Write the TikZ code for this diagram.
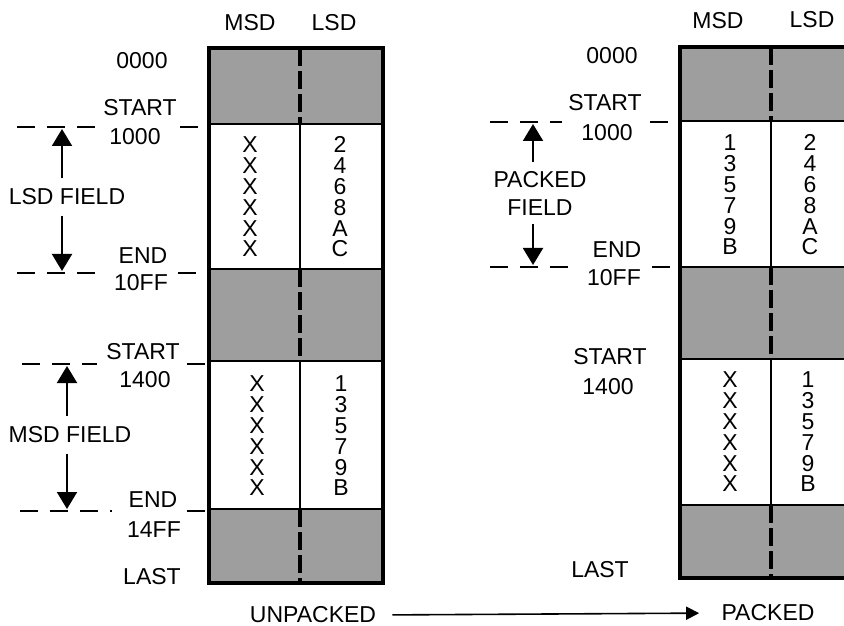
\documentclass[tikz,border=0pt]{standalone}
\usepackage{fontspec}
\setmainfont{Liberation Sans}
\usetikzlibrary{arrows.meta}
\tikzset{
  lbl/.style={inner sep=0pt, font=\fontsize{11.5}{14}\selectfont},
  stack/.style={lbl, align=center, font=\fontsize{11.5}{10.4}\selectfont},
  shade/.style={fill=black!38},
  cell/.style={line width=1.3pt},
  split/.style={line width=1.8pt, dash pattern=on 9pt off 2.5pt},
  guide/.style={line width=1.2pt, dash pattern=on 9pt off 6pt},
  fieldarrow/.style={line width=1pt, -{Triangle[length=8.5pt,width=10pt]}},
}
\begin{document}
\begin{tikzpicture}[x=0.5pt,y=-0.5pt]
  \clip (0,0) rectangle (844,625);
  % unpacked block
  \fill[shade] (209,48) rectangle (383,124) (209,269) rectangle (383,361) (209,509) rectangle (383,583);
  \draw[cell] (209,124) -- (383,124) (209,269) -- (383,269) (209,361) -- (383,361) (209,509) -- (383,509);
  \draw[cell] (300,124) -- (300,269) (300,361) -- (300,509);
  \draw[split] (300,48) -- (300,124) (300,269) -- (300,361) (300,509) -- (300,583);
  \draw[line width=1.6pt] (209,48) rectangle (383,583);
  \node[lbl] (umsd) at (250,23) {MSD};
  \node[lbl] (ulsd) at (334,23) {LSD};
  \node[stack] (ulo) at (250,197) {X\\X\\X\\X\\X\\X};
  \node[stack] (ulodig) at (340,197) {2\\4\\6\\8\\A\\C};
  \node[stack] (uhi) at (257,436) {X\\X\\X\\X\\X\\X};
  \node[stack] (uhidig) at (341,436) {1\\3\\5\\7\\9\\B};
  \node[lbl] (uzero) at (142,61) {0000};
  \node[lbl] (ustart) at (140,108) {START};
  \node[lbl] (u1000) at (135,137) {1000};
  \node[lbl] (uend) at (143,256) {END};
  \node[lbl] (u10ff) at (141,283) {10FF};
  \node[lbl] (ustartb) at (143,352) {START};
  \node[lbl] (u1400) at (145,380) {1400};
  \node[lbl] (uendb) at (153,500) {END};
  \node[lbl] (u14ff) at (154,530) {14FF};
  \node[lbl] (ulast) at (152,577) {LAST};
  \draw[guide] (17,127) -- (97,127) (180,127) -- (200,127);
  \draw[guide] (17,273) -- (102,273) (178,273) -- (198,273);
  \draw[guide] (22,364) -- (97,364) (187,364) -- (205,364);
  \draw[guide] (20,511) -- (112,511) (187,511) -- (205,511);
  \coordinate (lsdtop) at (62,129);
  \coordinate (lsdbot) at (62,271);
  \coordinate (msdtop) at (67,366);
  \coordinate (msdbot) at (67,509);
  \node[lbl, inner ysep=5pt] (lsdfield) at (67,197) {LSD FIELD};
  \node[lbl, inner ysep=5pt] (msdfield) at (70,435) {MSD FIELD};
  \draw[fieldarrow] (lsdfield.north -| lsdtop) -- (lsdtop);
  \draw[fieldarrow] (lsdfield.south -| lsdbot) -- (lsdbot);
  \draw[fieldarrow] (msdfield.north -| msdtop) -- (msdtop);
  \draw[fieldarrow] (msdfield.south -| msdbot) -- (msdbot);
  % packed block
  \fill[shade] (680,47) rectangle (862,121) (680,267) rectangle (862,359) (680,505) rectangle (862,578);
  \draw[cell] (680,121) -- (862,121) (680,267) -- (862,267) (680,359) -- (862,359) (680,505) -- (862,505);
  \draw[cell] (771,121) -- (771,267) (771,359) -- (771,505);
  \draw[split] (771,47) -- (771,121) (771,267) -- (771,359) (771,505) -- (771,578);
  \draw[line width=1.6pt] (680,47) rectangle (862,578);
  \node[lbl] (pmsd) at (718,21) {MSD};
  \node[lbl] (plsd) at (812,20) {LSD};
  \node[stack] (plo) at (730,195) {1\\3\\5\\7\\9\\B};
  \node[stack] (plodig) at (810,195) {2\\4\\6\\8\\A\\C};
  \node[stack] (phi) at (730,432) {X\\X\\X\\X\\X\\X};
  \node[stack] (phidig) at (808,432) {1\\3\\5\\7\\9\\B};
  \node[lbl] (pzero) at (612,56) {0000};
  \node[lbl] (pstart) at (605,103) {START};
  \node[lbl] (p1000) at (607,133) {1000};
  \node[lbl] (pend) at (617,250) {END};
  \node[lbl] (p10ff) at (614,278) {10FF};
  \node[lbl] (pstartb) at (610,357) {START};
  \node[lbl] (p1400) at (608,387) {1400};
  \node[lbl] (plast) at (600,570) {LAST};
  \draw[guide] (490,122) -- (562,122) (650,122) -- (668,122);
  \draw[guide] (490,267) -- (577,267) (652,267) -- (672,267);
  \coordinate (pktop) at (533,124);
  \coordinate (pkbot) at (533,265);
  \node[lbl, align=center, inner ysep=4.5pt] (pkfield) at (540,193) {PACKED\\FIELD};
  \draw[fieldarrow] (pkfield.north -| pktop) -- (pktop);
  \draw[fieldarrow] (pkfield.south -| pkbot) -- (pkbot);
  % unpacked to packed
  \node[lbl] (unpacked) at (313,615) {UNPACKED};
  \node[lbl] (packed) at (768,613) {PACKED};
  \draw[line width=0.8pt, -{Triangle[length=6.5pt,width=6.5pt]}, shorten <=8pt, shorten >=11pt] (unpacked.east) -- (packed.west);
\end{tikzpicture}
\end{document}
